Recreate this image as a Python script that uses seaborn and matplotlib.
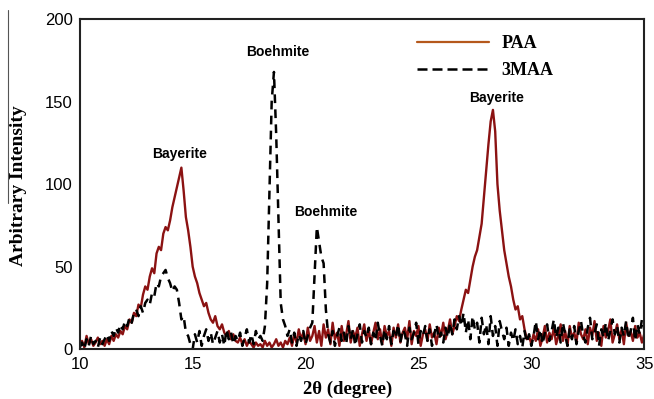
import numpy as np
import pandas as pd
import matplotlib
matplotlib.use("Agg")
import matplotlib.pyplot as plt
from matplotlib.lines import Line2D
import seaborn as sns

# 2theta grid (degree), 0.1 step from 10 to 35
two_theta = np.round(np.arange(100, 351) / 10.0, 1)

paa = [
    2, 5, 1, 8, 3, 6, 2, 4, 7, 3,
    5, 2, 6, 3, 8, 5, 9, 7, 11, 9,
    14, 12, 18, 16, 22, 20, 27, 25, 33, 38,
    36, 44, 49, 46, 58, 62, 60, 70, 74, 72,
    78, 86, 92, 98, 104, 110, 96, 80, 72, 62,
    50, 44, 40, 34, 30, 26, 28, 22, 18, 16,
    20, 14, 12, 15, 10, 8, 11, 6, 9, 5,
    4, 7, 3, 6, 2, 5, 3, 1, 4, 2,
    3, 1, 5, 2, 4, 1, 3, 6, 2, 4,
    1, 5, 3, 7, 2, 9, 4, 12, 6, 10,
    3, 13, 5, 8, 14, 4, 11, 2, 15, 7,
    12, 3, 16, 6, 10, 2, 14, 5, 9, 17,
    4, 11, 7, 13, 2, 9, 15, 5, 12, 3,
    10, 16, 6, 12, 3, 14, 8, 11, 2, 13,
    7, 15, 4, 10, 13, 6, 17, 3, 11, 8,
    14, 2, 9, 12, 5, 15, 7, 10, 3, 13,
    8, 16, 6, 11, 18, 9, 14, 20, 17, 24,
    30, 36, 34, 42, 50, 56, 60, 68, 76, 92,
    108, 124, 138, 145, 132, 100, 84, 72, 60, 52,
    44, 38, 30, 24, 26, 18, 20, 12, 6, 8,
    3, 9, 5, 12, 2, 7, 14, 4, 10, 6,
    13, 3, 8, 15, 5, 11, 2, 14, 7, 10,
    4, 16, 9, 6, 12, 3, 13, 8, 17, 5,
    10, 2, 14, 7, 11, 18, 4, 9, 15, 6,
    12, 3, 16, 8, 11, 5, 14, 7, 10, 4,
    9,
]

maa3 = [
    1, 4, 0, 6, 2, 8, 3, 5, 1, 7,
    3, 6, 9, 5, 11, 8, 13, 10, 15, 12,
    17, 14, 19, 16, 22, 24, 20, 26, 22, 28,
    30, 27, 34, 32, 40, 38, 44, 46, 48, 43,
    40, 35, 38, 36, 28, 18, 20, 10, 8, 3,
    0, 9, 4, 11, 2, 8, 12, 5, 10, 3,
    7, 11, 4, 9, 2, 12, 6, 10, 3, 8,
    5, 10, 2, 7, 12, 4, 9, 3, 11, 6,
    8, 5, 14, 40, 95, 150, 168, 130, 80, 28,
    18, 14, 8, 12, 4, 10, 2, 9, 5, 11,
    3, 8, 13, 16, 45, 74, 65, 56, 52, 24,
    9, 4, 11, 2, 8, 13, 5, 10, 3, 14,
    6, 12, 2, 9, 15, 4, 11, 7, 13, 3,
    10, 5, 16, 8, 2, 12, 6, 14, 3, 11,
    7, 15, 4, 12, 9, 2, 13, 6, 10, 16,
    3, 11, 8, 14, 5, 12, 2, 9, 15, 6,
    10, 4, 13, 7, 16, 9, 18, 12, 20, 14,
    22, 10, 18, 6, 20, 12, 16, 4, 19, 9,
    15, 3, 20, 8, 14, 2, 17, 11, 6, 13,
    2, 10, 5, 12, 3, 8, 1, 11, 4, 9,
    2, 8, 17, 6, 12, 3, 10, 15, 5, 11,
    18, 7, 13, 4, 16, 9, 2, 12, 6, 14,
    3, 11, 17, 8, 4, 13, 19, 6, 10, 15,
    2, 12, 7, 16, 5, 11, 18, 9, 14, 4,
    13, 8, 17, 6, 11, 19, 5, 15, 9, 18,
    12,
]

series_names = ["PAA", "3MAA"]
peak_labels = ["Bayerite", "Boehmite", "Boehmite", "Bayerite"]
peak_x = [14.43, 18.75, 20.9, 28.45]
peak_y = [114, 176, 79, 148]
x_ticks = [10, 15, 20, 25, 30, 35]
y_ticks = [0, 50, 100, 150, 200]

df_paa = pd.DataFrame({"x": two_theta, "y": paa})
df_maa = pd.DataFrame({"x": two_theta, "y": maa3})

sns.set_style("white")
plt.rcParams["font.family"] = ["Liberation Sans", "DejaVu Sans"]
plt.rcParams["text.color"] = "black"
plt.rcParams["axes.labelcolor"] = "black"
serif = ["Liberation Serif", "DejaVu Serif"]

fig = plt.figure(figsize=(6.54, 3.99), dpi=100)
ax = fig.add_axes([0.122, 0.125, 0.863, 0.827])

sns.lineplot(data=df_paa, x="x", y="y", ax=ax, color="#8b1212", lw=1.7)
sns.lineplot(data=df_maa, x="x", y="y", ax=ax, color="black", lw=1.8,
             linestyle=(0, (3.5, 2.5)))

ax.set_xlim(10, 35)
ax.set_ylim(0, 200)
ax.set_xticks(x_ticks)
ax.set_yticks(y_ticks)
ax.tick_params(length=0, labelsize=12, colors="black")
ax.tick_params(axis="y", pad=5)
ax.tick_params(axis="x", pad=6)
for s in ax.spines.values():
    s.set_color("#222222")
    s.set_linewidth(1.5)

ax.set_xlabel("2θ (degree)", family=serif, fontweight="bold", fontsize=13.5,
              color="black")
ax.xaxis.set_label_coords(0.475, -0.097)
ax.set_ylabel("Arbitrary Intensity", family=serif, fontweight="bold", fontsize=14,
              color="black")
ax.yaxis.set_label_coords(-0.094, 0.494)

for lab, px, py in zip(peak_labels, peak_x, peak_y):
    ax.text(px, py, lab, ha="center", va="bottom", fontsize=10,
            fontweight="bold", color="black")

handles = [Line2D([], [], color="#b5581c", lw=1.6),
           Line2D([], [], color="black", lw=1.8, linestyle=(0, (4, 2)))]
leg = ax.legend(handles, series_names, loc="upper left",
                bbox_to_anchor=(0.569, 1.0), frameon=False, handlelength=4,
                handletextpad=0.65, labelspacing=0.55,
                prop={"family": serif, "weight": "bold", "size": 13})
for t in leg.get_texts():
    t.set_color("black")

# thin vertical scan mark at the far left of the reference figure
fig.add_artist(Line2D([0.0125, 0.0125], [0.49, 0.975], transform=fig.transFigure,
                      color="#555555", lw=0.8))

fig.savefig("out.png", dpi=100)
